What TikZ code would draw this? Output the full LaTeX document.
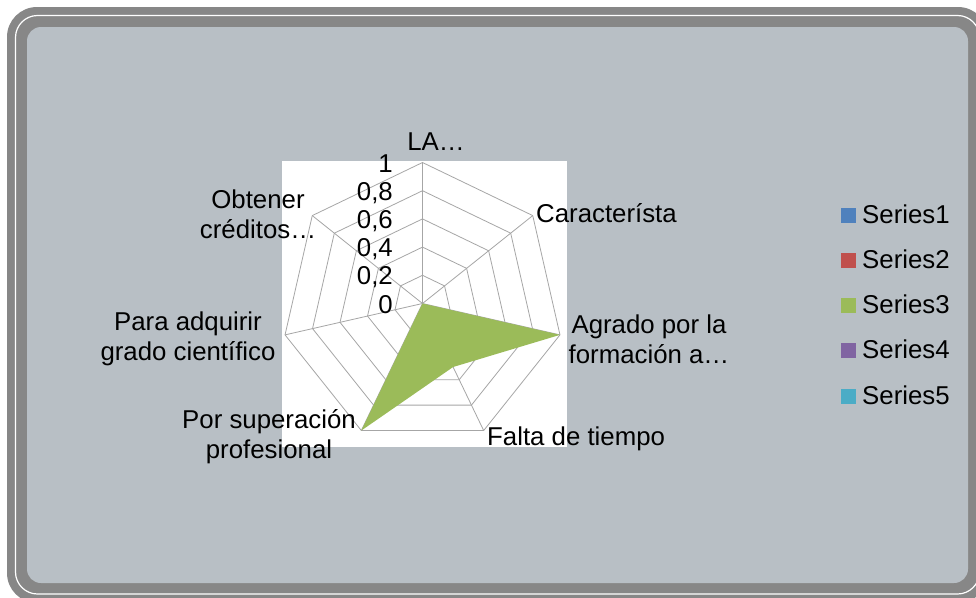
\documentclass[tikz,border=0pt]{standalone}
\usepackage{fontspec}
\setmainfont{Liberation Sans}
\usetikzlibrary{positioning,calc}

\definecolor{panel}{HTML}{B8BFC5}
\definecolor{rim}{HTML}{878787}
\definecolor{gridgray}{HTML}{A6A6A6}
\definecolor{serA}{HTML}{4F81BD}
\definecolor{serB}{HTML}{C0504D}
\definecolor{serC}{HTML}{9BBB59}
\definecolor{serD}{HTML}{8064A2}
\definecolor{serE}{HTML}{4BACC6}

\begin{document}
\begin{tikzpicture}[x=1pt,y=-1pt,
    lab/.style={font=\fontsize{25.8}{30}\selectfont, inner sep=0pt, align=center},
    key/.style={minimum size=15pt, inner sep=0pt},
    ring/.style={draw=gridgray, line width=0.8pt}]

    \useasboundingbox (0,0) rectangle (976,597);
    \clip (0,0) rectangle (976,597);

    % frame
    \fill[rim, rounded corners=30pt] (7,7) rectangle (988,603);
    \draw[white, line width=1.2pt, rounded corners=22pt] (15.5,15.5) rectangle (979.5,594);
    \fill[panel, rounded corners=14pt] (27,27) rectangle (968,583);

    % plot area
    \fill[white] (282,161) rectangle (567,447);

    \begin{scope}[shift={(422.5,303.5)}, y=1pt]
        \coordinate (c) at (0,0);
        \foreach \k in {0,...,6}
            \coordinate (v\k) at ({90-\k*360/7}:141);

        \foreach \r in {0.2,0.4,0.6,0.8,1}
            \draw[ring] ($(c)!\r!(v0)$) -- ($(c)!\r!(v1)$) -- ($(c)!\r!(v2)$) -- ($(c)!\r!(v3)$)
                -- ($(c)!\r!(v4)$) -- ($(c)!\r!(v5)$) -- ($(c)!\r!(v6)$) -- cycle;
        \foreach \k in {0,...,6}
            \draw[ring] (c) -- (v\k);

        % Series3
        \fill[serC] (c) -- (v2) -- ($(c)!0.5!(v3)$) -- (v4) -- cycle;
    \end{scope}

    % scale
    \foreach \t [count=\i from 0] in {0,{0,2},{0,4},{0,6},{0,8},1}
        \node[lab, anchor=base east] (tick\i) at (393, 313 - \i*28.2) {\t};

    % axis names
    \node[lab, anchor=base] (la) at (436,150) {LA…};
    \node[lab, anchor=base west] (carac) at (536,222) {Característa};
    \node[lab] (agrado) at (649,339) {Agrado por la\\formación a…};
    \node[lab, anchor=base west] (falta) at (487,445) {Falta de tiempo};
    \node[lab] (super) at (269,437) {Por superación\\profesional};
    \node[lab] (grado) at (188,339) {Para adquirir\\grado científico};
    \node[lab] (creditos) at (258,214) {Obtener\\créditos…};

    % legend
    \foreach \col [count=\i] in {serA,serB,serC,serD,serE} {
        \node[key, fill=\col] (key\i) at (848.5, 215 + \i*45.25 - 45.25) {};
        \node[lab, anchor=base west] (name\i) at (862, 223 + \i*45.25 - 45.25) {Series\i};
    }
\end{tikzpicture}
\end{document}
